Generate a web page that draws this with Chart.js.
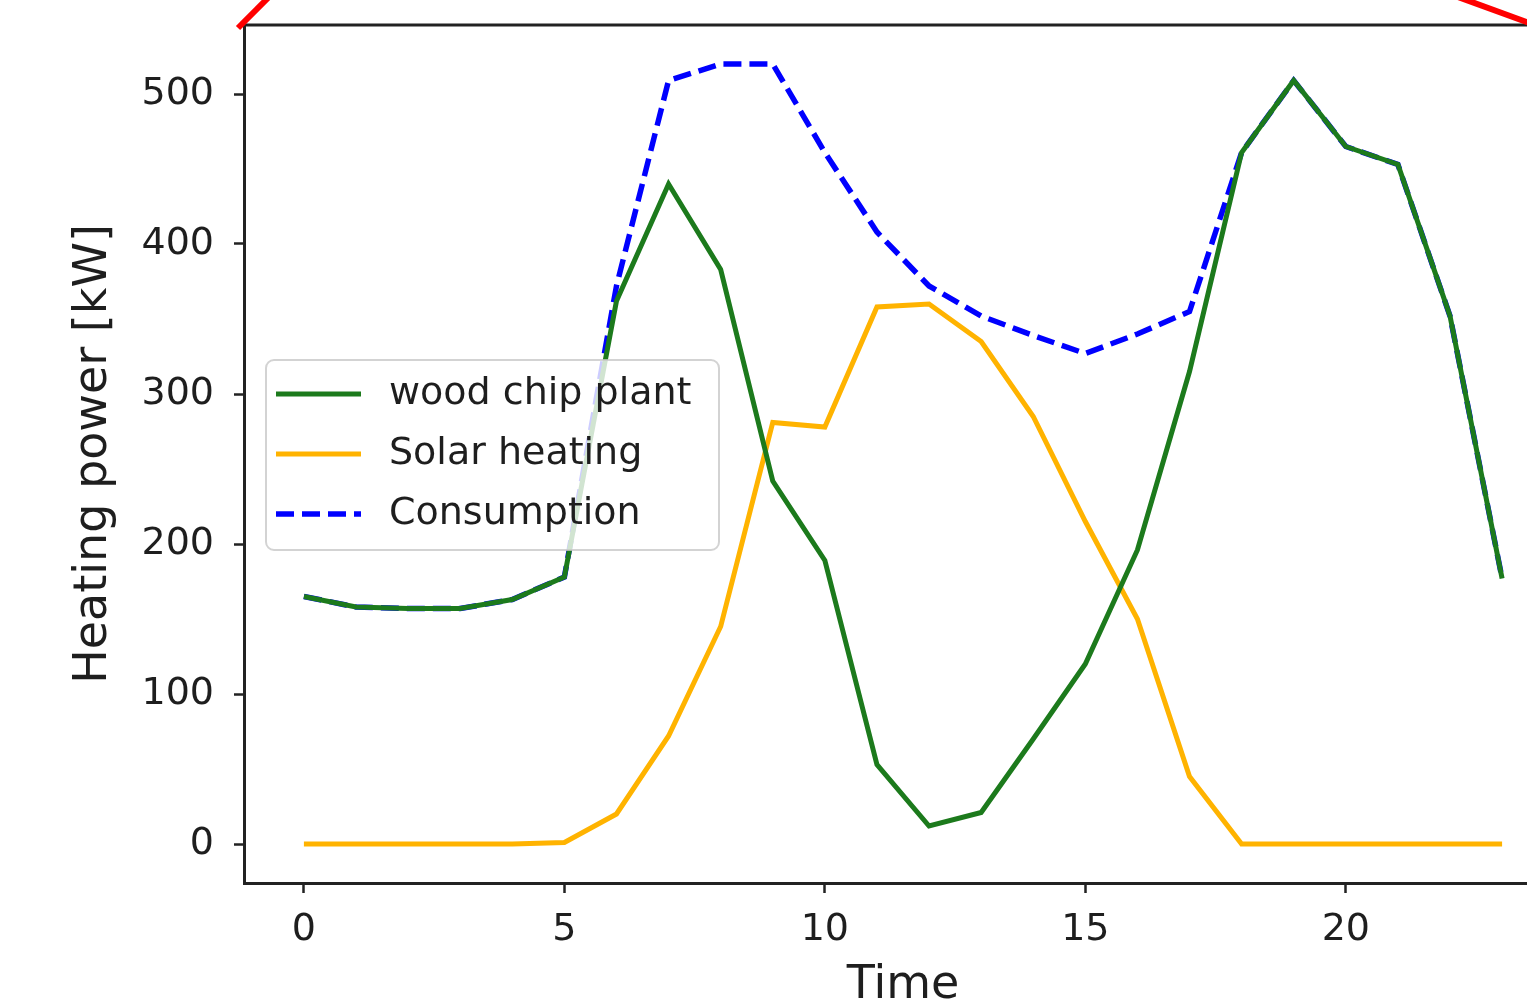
<!DOCTYPE html>
<html lang="en">
<head>
    <meta charset="UTF-8">
    <title>Heating power</title>
    <script src="https://cdn.jsdelivr.net/npm/chart.js"></script>
    <style>
        html, body { margin: 0; padding: 0; background: #fff; overflow: hidden; }
        .wrap { width: 1564px; height: 1040px; position: relative; }
    </style>
</head>
<body>
    <div class="wrap">
        <canvas id="heatChart"></canvas>
    </div>

    <script>
        // Hourly data
        const hours = [0, 1, 2, 3, 4, 5, 6, 7, 8, 9, 10, 11, 12, 13, 14, 15, 16, 17, 18, 19, 20, 21, 22, 23];
        const woodChip = [165, 158, 157, 157, 163, 178, 362, 440, 383, 242, 189, 53, 12, 21, 70, 120, 196, 315, 461, 509, 465, 453, 352, 177];
        const solar = [0, 0, 0, 0, 0, 1, 20, 72, 145, 281, 278, 358, 360, 335, 285, 215, 150, 45, 0, 0, 0, 0, 0, 0];
        const consumption = [165, 158, 157, 157, 163, 178, 372, 509, 520, 520, 461, 408, 372, 352, 339, 327, 340, 355, 461, 509, 465, 453, 352, 177];

        const xTicks = [0, 5, 10, 15, 20];
        const yTicks = [0, 100, 200, 300, 400, 500];
        const seriesNames = ['wood chip plant', 'Solar heating', 'Consumption'];

        const FONT = 'DejaVu Sans';
        const INK = '#1e1e1e';

        function points(values) {
            return hours.map((h, i) => ({ x: h, y: values[i] }));
        }

        // top spine + in-axes legend + the red marker strokes at the corners
        const extras = {
            id: 'extras',
            afterDatasetsDraw(chart) {
                const ctx = chart.ctx;
                const area = chart.chartArea;
                ctx.save();
                ctx.strokeStyle = '#222';
                ctx.lineWidth = 3;
                ctx.beginPath();
                ctx.moveTo(area.left - 1.5, area.top);
                ctx.lineTo(area.right, area.top);
                ctx.stroke();

                // legend box
                const bx = area.left + 22, by = area.top + 335, bw = 453, bh = 190;
                ctx.fillStyle = 'rgba(255,255,255,0.8)';
                ctx.strokeStyle = 'rgba(200,200,200,0.8)';
                ctx.lineWidth = 2;
                ctx.beginPath();
                ctx.roundRect(bx, by, bw, bh, 8);
                ctx.fill();
                ctx.stroke();

                ctx.font = '38px "' + FONT + '"';
                ctx.textBaseline = 'middle';
                ctx.textAlign = 'left';
                chart.data.datasets.forEach((ds, i) => {
                    const ry = by + 34 + i * 60;
                    ctx.strokeStyle = ds.borderColor;
                    ctx.lineWidth = ds.borderWidth;
                    ctx.setLineDash(ds.borderDash || []);
                    ctx.beginPath();
                    ctx.moveTo(bx + 10, ry);
                    ctx.lineTo(bx + 95, ry);
                    ctx.stroke();
                    ctx.setLineDash([]);
                    ctx.fillStyle = INK;
                    ctx.fillText(ds.label, bx + 123, ry);
                });
                ctx.restore();
            },
            afterDraw(chart) {
                const ctx = chart.ctx;
                ctx.save();
                ctx.strokeStyle = '#ff0000';
                ctx.lineWidth = 6;
                ctx.beginPath();
                ctx.moveTo(238, 28);
                ctx.lineTo(268, -2);
                ctx.stroke();
                ctx.beginPath();
                ctx.moveTo(1458, -3);
                ctx.lineTo(1532, 24);
                ctx.stroke();
                ctx.restore();
            }
        };

        function noPad(scale) {
            scale.paddingTop = 0;
            scale.paddingBottom = 0;
            scale.paddingLeft = 0;
            scale.paddingRight = 0;
        }

        const ctx = document.getElementById('heatChart').getContext('2d');
        const heatChart = new Chart(ctx, {
            type: 'line',
            data: {
                datasets: [
                    {
                        label: seriesNames[0],
                        data: points(woodChip),
                        borderColor: '#1c7a1c',
                        borderWidth: 5
                    },
                    {
                        label: seriesNames[1],
                        data: points(solar),
                        borderColor: '#ffb300',
                        borderWidth: 5
                    },
                    {
                        label: seriesNames[2],
                        data: points(consumption),
                        borderColor: '#0000ff',
                        borderWidth: 5.5,
                        borderDash: [18, 8]
                    }
                ]
            },
            options: {
                responsive: true,
                maintainAspectRatio: false,
                animation: false,
                layout: { padding: { top: 25, right: 2, left: 0, bottom: 0 } },
                elements: {
                    point: { radius: 0 },
                    line: { tension: 0, fill: false }
                },
                plugins: {
                    legend: { display: false },
                    tooltip: { enabled: false }
                },
                scales: {
                    x: {
                        type: 'linear',
                        min: -1.15,
                        max: 24.15,
                        afterFit(scale) { scale.height = 157; noPad(scale); },
                        afterBuildTicks(scale) { scale.ticks = xTicks.map(v => ({ value: v })); },
                        border: { display: true, color: '#222', width: 3 },
                        grid: { drawOnChartArea: false, drawTicks: true, tickLength: 10, tickWidth: 2.5, tickColor: '#222' },
                        ticks: {
                            color: INK,
                            padding: 14,
                            maxRotation: 0,
                            font: { family: FONT, size: 38 }
                        },
                        title: {
                            display: true,
                            text: 'Time',
                            color: INK,
                            font: { family: FONT, size: 46 },
                            padding: { top: 0, bottom: 26 }
                        }
                    },
                    y: {
                        min: -26,
                        max: 546,
                        afterFit(scale) { scale.width = 244; noPad(scale); },
                        afterBuildTicks(scale) { scale.ticks = yTicks.map(v => ({ value: v })); },
                        border: { display: true, color: '#222', width: 3 },
                        grid: { drawOnChartArea: false, drawTicks: true, tickLength: 10, tickWidth: 2.5, tickColor: '#222' },
                        ticks: {
                            color: INK,
                            padding: 20,
                            font: { family: FONT, size: 38 }
                        },
                        title: {
                            display: true,
                            text: 'Heating power [kW]',
                            color: INK,
                            font: { family: FONT, size: 46 },
                            padding: { top: 66, bottom: 0 }
                        }
                    }
                }
            },
            plugins: [extras]
        });
    </script>
</body>
</html>
